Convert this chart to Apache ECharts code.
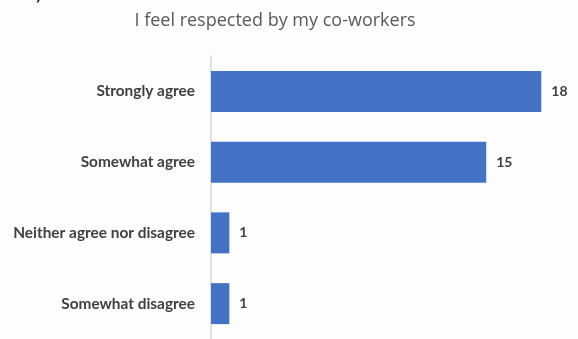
<!DOCTYPE html>
<html>
<head>
<meta charset="utf-8">
<script src="https://cdn.jsdelivr.net/npm/echarts@6/dist/echarts.min.js"></script>
<style>
  html, body { margin: 0; padding: 0; background: #fdfdfd; }
  #chart { width: 578px; height: 339px; }
</style>
</head>
<body>
<div id="chart"></div>
<script>
// Survey responses: "I feel respected by my co-workers"
const categories = ['Strongly agree', 'Somewhat agree', 'Neither agree nor disagree', 'Somewhat disagree'];
const counts = [18, 15, 1, 1];
const chartTitle = 'I feel respected by my co-workers';
const questionNumber = '10)';

const chart = echarts.init(document.getElementById('chart'));
chart.setOption({
  backgroundColor: '#fdfdfd',
  animation: false,
  title: {
    text: chartTitle,
    left: 270,
    textAlign: 'center',
    top: 7,
    textStyle: { fontFamily: 'Open Sans', fontSize: 18, fontWeight: 'normal', color: '#595959' }
  },
  graphic: [{
    type: 'text',
    left: 20,
    top: -11,
    style: { text: questionNumber, fontFamily: 'Open Sans', fontSize: 14, fontWeight: 'bold', fill: '#111' }
  }],
  grid: { left: 211, right: 0, top: 56, height: 285, containLabel: false },
  xAxis: {
    type: 'value',
    min: 0,
    max: 20,
    show: false
  },
  yAxis: {
    type: 'category',
    data: categories,
    inverse: true,
    axisLine: { show: true, lineStyle: { color: '#d9d9d9', width: 1.5 } },
    axisTick: { show: false },
    axisLabel: {
      margin: 16,
      fontFamily: 'Lato',
      fontSize: 15.4,
      fontWeight: 'bold',
      color: '#404040'
    }
  },
  series: [{
    type: 'bar',
    data: counts,
    barWidth: 41,
    itemStyle: { color: '#4472c4' },
    label: {
      show: true,
      position: 'right',
      distance: 10,
      fontFamily: 'Lato',
      fontSize: 14,
      fontWeight: 'bold',
      color: '#404040'
    }
  }]
});
</script>
</body>
</html>
